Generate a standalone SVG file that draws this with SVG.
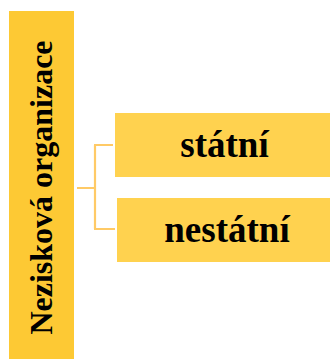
<svg xmlns="http://www.w3.org/2000/svg" width="330" height="359" viewBox="0 0 330 359">
<style>
.lbl{font-family:"Liberation Serif","Times New Roman",serif;font-weight:bold;fill:#000}
.main{fill:#FDC934}
.sub{fill:#FFD24F}
.con{fill:none;stroke:#FFCA66;stroke-width:2.2}
</style>
<rect width="330" height="359" fill="#fff"/>
<g id="node-root">
<rect class="main" x="9" y="11" width="65" height="348"/>
<text class="lbl" font-size="32" text-anchor="middle" transform="translate(52,187.5) rotate(-90)">Nezisková organizace</text>
</g>
<g id="connectors">
<path class="con" d="M77,188 H95 M95,145 V229 M94,145 H113 M94,229 H115"/>
</g>
<g id="node-statni">
<rect class="sub" x="115" y="113" width="215" height="64"/>
<text class="lbl" font-size="37" x="224.5" y="157" text-anchor="middle">státní</text>
</g>
<g id="node-nestatni">
<rect class="sub" x="117" y="198" width="213" height="64"/>
<text class="lbl" font-size="37" x="227" y="242" text-anchor="middle">nestátní</text>
</g>
</svg>
